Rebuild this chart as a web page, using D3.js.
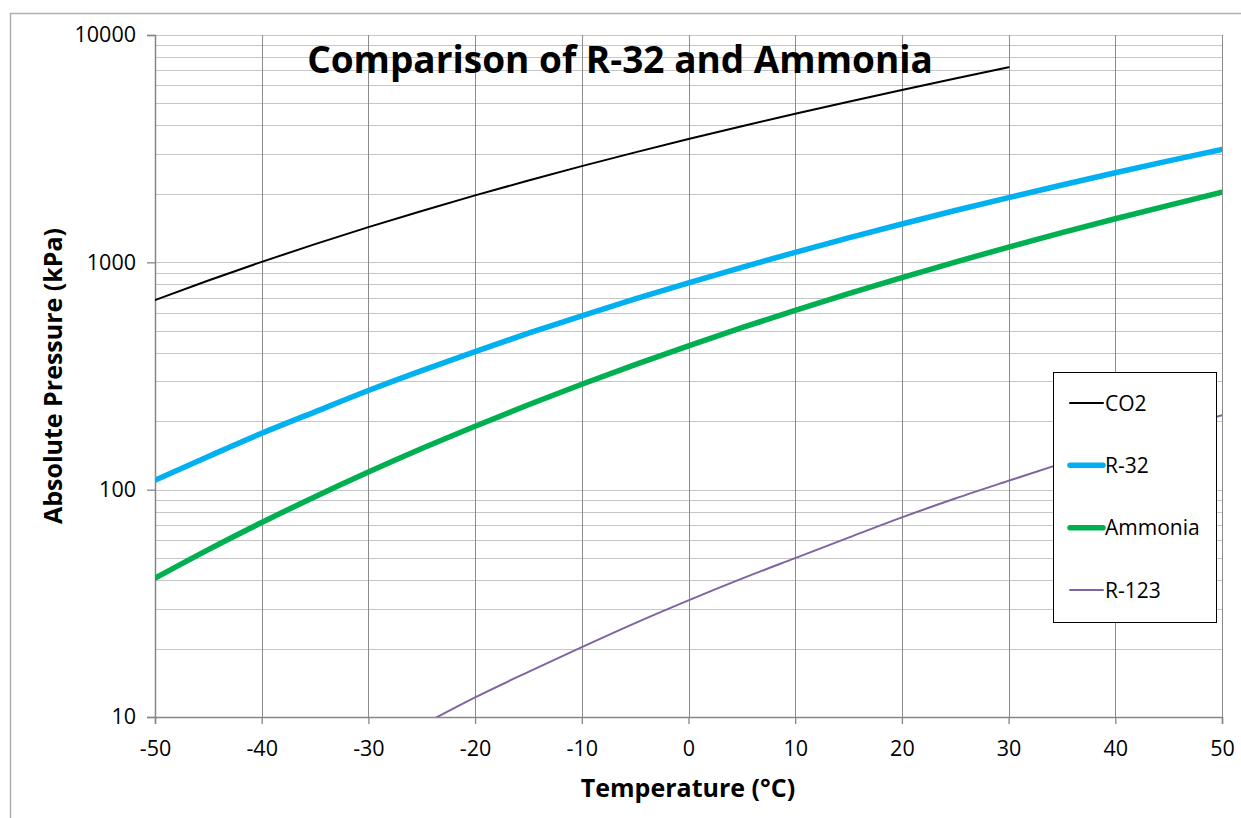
<!DOCTYPE html>
<html>
<head>
<meta charset="utf-8">
<script src="https://cdn.jsdelivr.net/npm/d3@7"></script>
<style>
  body { margin: 0; background: #fff; }
  svg { font-family: "Open Sans", "Noto Sans", sans-serif; }
</style>
</head>
<body>
<svg id="chart" width="1241" height="818"></svg>
<script>
// temperatures (°C), 5-degree steps
const tempsCO2 = [-50,-45,-40,-35,-30,-25,-20,-15,-10,-5,0,5,10,15,20,25,30];
const co2 = [682,832,1005,1202,1428,1683,1970,2291,2649,3046,3485,3969,4502,5086,5729,6434,7214];

const tempsFull = [-50,-45,-40,-35,-30,-25,-20,-15,-10,-5,0,5,10,15,20,25,30,35,40,45,50];
const r32 = [110,140,177,220,273,334,405,488,582,690,813,951,1107,1280,1474,1690,1927,2189,2478,2793,3141];
const ammonia = [40.8,54.5,71.7,93.1,119.5,151.6,190.2,236.3,290.9,354.9,429.4,515.7,615,728.3,857.5,1003,1167,1350,1555,1782,2033];

const tempsR123 = [-25,-20,-15,-10,-5,0,5,10,15,20,25,30,35,40,45,50];
const r123 = [9.2,12.2,15.8,20.3,25.9,32.6,40.6,50,61.5,75.5,91.4,109.4,130.5,154.5,181.7,212.5];

const xTicks = [-50,-40,-30,-20,-10,0,10,20,30,40,50];
const yTicks = [10,100,1000,10000];

const series = [
  { name: "CO2", t: tempsCO2, v: co2, color: "#000000", width: 2 },
  { name: "R-32", t: tempsFull, v: r32, color: "#00b0f0", width: 5.5 },
  { name: "Ammonia", t: tempsFull, v: ammonia, color: "#00b050", width: 5.5 },
  { name: "R-123", t: tempsR123, v: r123, color: "#8064a2", width: 2 }
];

const FONT = '"Open Sans", "Noto Sans", sans-serif';
const svg = d3.select("#chart");
const margin = { top: 35, left: 155 };
const width = 1222 - 155, height = 717 - 35;

// outer chart border
svg.append("rect").attr("x", 10.5).attr("y", 13.5).attr("width", 1260).attr("height", 830)
  .attr("fill", "none").attr("stroke", "#b0b0b0").attr("stroke-width", 1.5);

const g = svg.append("g").attr("transform", `translate(${margin.left},${margin.top})`);

const x = d3.scaleLinear().domain([-50, 50]).range([0, width]);
const y = d3.scaleLog().domain([10, 10000]).range([height, 0]);

// minor horizontal grid
const minorVals = [];
for (let dec = 10; dec < 10000; dec *= 10) {
  for (let k = 1; k <= 10; k++) minorVals.push(dec * k);
}
g.append("g").selectAll("line").data(minorVals).join("line")
  .attr("x1", 0).attr("x2", width)
  .attr("y1", d => Math.round(y(d)) + 0.5).attr("y2", d => Math.round(y(d)) + 0.5)
  .attr("stroke", "#c6c6c6").attr("stroke-width", 1.2);

// vertical grid
g.append("g").selectAll("line").data(xTicks).join("line")
  .attr("x1", d => Math.round(x(d)) + 0.5).attr("x2", d => Math.round(x(d)) + 0.5)
  .attr("y1", 0).attr("y2", height)
  .attr("stroke", "#8c8c8c").attr("stroke-width", 1);

// axes
const xAxis = d3.axisBottom(x).tickValues(xTicks).tickSize(7).tickFormat(d => String(d));
const xg = g.append("g").attr("transform", `translate(0,${height})`).call(xAxis)
  .attr("font-family", FONT).attr("font-size", 21.5);
xg.select(".domain").attr("stroke", "#868686").attr("stroke-width", 1.5);
xg.selectAll(".tick line").attr("stroke", "#868686").attr("stroke-width", 1.3);
xg.selectAll("text").attr("fill", "#000").attr("y", 39).attr("dy", null);

const yAxis = d3.axisLeft(y).tickValues(yTicks).tickSize(8).tickFormat(d => String(d));
const yg = g.append("g").call(yAxis)
  .attr("font-family", FONT).attr("font-size", 21.5);
yg.select(".domain").attr("stroke", "#868686").attr("stroke-width", 1.5);
yg.selectAll(".tick line").attr("stroke", "#868686").attr("stroke-width", 1.3);
yg.selectAll("text").attr("fill", "#000").attr("x", -19);

// series lines
svg.append("clipPath").attr("id", "plotclip").append("rect")
  .attr("x", 0).attr("y", 0).attr("width", width).attr("height", height);

const line = d3.line().x(d => x(d[0])).y(d => y(d[1])).curve(d3.curveMonotoneX);
g.append("g").attr("clip-path", "url(#plotclip)").selectAll("path").data(series).join("path")
  .attr("d", s => line(s.t.map((t, i) => [t, s.v[i]])))
  .attr("fill", "none").attr("stroke", s => s.color).attr("stroke-width", s => s.width)
  .attr("stroke-linecap", "round");

// title
svg.append("text").attr("x", 620).attr("y", 73).attr("text-anchor", "middle")
  .attr("font-size", 37).attr("font-weight", "bold").text("Comparison of R-32 and Ammonia");

// axis titles
svg.append("text").attr("x", 688).attr("y", 797).attr("text-anchor", "middle")
  .attr("font-size", 25).attr("font-weight", "bold").text("Temperature (°C)");
svg.append("text").attr("transform", "translate(62,376) rotate(-90)").attr("text-anchor", "middle")
  .attr("font-size", 25).attr("font-weight", "bold").text("Absolute Pressure (kPa)");

// legend
const legend = svg.append("g").attr("transform", "translate(1053,372)");
legend.append("rect").attr("x", 0.5).attr("y", 0.5).attr("width", 163).attr("height", 250)
  .attr("fill", "#fff").attr("stroke", "#000").attr("stroke-width", 1);
const rowY = d3.scalePoint().domain(series.map(s => s.name)).range([31, 218]);
const item = legend.selectAll("g.item").data(series).join("g").attr("class", "item")
  .attr("transform", s => `translate(0,${rowY(s.name)})`);
item.append("line").attr("x1", 17).attr("x2", 50).attr("y1", 0).attr("y2", 0)
  .attr("stroke", s => s.color).attr("stroke-width", s => s.width).attr("stroke-linecap", "round");
item.append("text").attr("x", 52).attr("y", 0).attr("dy", "0.36em")
  .attr("font-size", 21).text(s => s.name);
</script>
</body>
</html>
